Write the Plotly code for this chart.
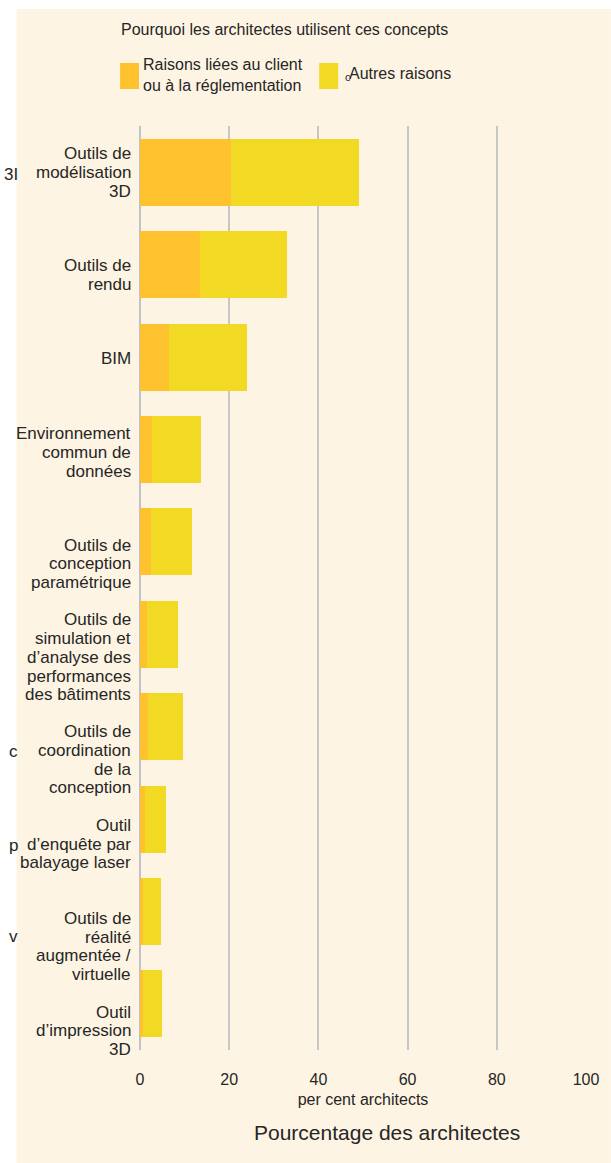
import plotly.graph_objects as go

# ---- data -------------------------------------------------------------
categories = [
    "Outils de<br>modélisation<br>3D",
    "Outils de<br>rendu",
    "BIM",
    "Environnement<br>commun de<br>données",
    "Outils de<br>conception<br>paramétrique",
    "Outils de<br>simulation et<br>d’analyse des<br>performances<br>des bâtiments",
    "Outils de<br>coordination<br>de la<br>conception",
    "Outil<br>d’enquête par<br>balayage laser",
    "Outils de<br>réalité<br>augmentée /<br>virtuelle",
    "Outil<br>d’impression<br>3D",
]
client_reasons = [20.3, 13.4, 6.5, 2.7, 2.5, 1.6, 1.8, 1.1, 0.7, 0.7]
other_reasons = [28.8, 19.6, 17.6, 10.9, 9.1, 6.9, 7.8, 4.7, 4.0, 4.2]
x_ticks = [0, 20, 40, 60, 80, 100]

series_names = ["Raisons liées au client<br>ou à la réglementation", "Autres raisons"]
legend_title = "Pourquoi les architectes utilisent ces concepts"
x_axis_title = "per cent architects"
x_axis_caption = "Pourcentage des architectes"

# ---- styling ----------------------------------------------------------
W, H = 611, 1163
L, R, T, B = 140, 23, 126, 113
PW, PH = W - L - R, H - T - B

CREAM = "#FEF4E3"
ORANGE = "#FDC22D"
YELLOW = "#F2D924"
GRID = "#C6C6C6"
TEXT = "#262626"
FONT = "Liberation Sans, Arial, sans-serif"

# vertical shift (px, downwards) of each category label from its bar centre
label_shift = [0, 10, 1, 3, 22, 23, 33, 25, 35, 27]
line_step = 18.8


def px_x(px):
    return (px - L) / PW


def px_y(py):
    return (H - B - py) / PH


fig = go.Figure()
fig.add_trace(go.Bar(y=categories, x=client_reasons, orientation="h",
                     marker=dict(color=ORANGE, line=dict(width=0)),
                     name="client"))
fig.add_trace(go.Bar(y=categories, x=other_reasons, orientation="h",
                     marker=dict(color=YELLOW, line=dict(width=0)),
                     name="other"))

annotations = []
# category labels, one line at a time for tight leading
for cat, shift in zip(categories, label_shift):
    lines = cat.split("<br>")
    n = len(lines)
    for i, line in enumerate(lines):
        dy = shift + (i - (n - 1) / 2) * line_step
        annotations.append(dict(
            xref="paper", yref="y", x=px_x(133), y=cat,
            text=line, showarrow=False, xanchor="right", yanchor="middle",
            yshift=-dy, font=dict(size=17, color=TEXT, family=FONT)))

# legend block
annotations.append(dict(xref="paper", yref="paper", x=px_x(119), y=px_y(30),
                        text=legend_title, showarrow=False, xanchor="left",
                        yanchor="middle", font=dict(size=16, color=TEXT, family=FONT)))
annotations.append(dict(xref="paper", yref="paper", x=px_x(141), y=px_y(75),
                        text=series_names[0], showarrow=False, xanchor="left",
                        yanchor="middle", align="left",
                        font=dict(size=16, color=TEXT, family=FONT)))
annotations.append(dict(xref="paper", yref="paper", x=px_x(348), y=px_y(73),
                        text=series_names[1], showarrow=False, xanchor="left",
                        yanchor="middle", font=dict(size=16, color=TEXT, family=FONT)))
annotations.append(dict(xref="paper", yref="paper", x=px_x(354), y=px_y(77),
                        text="c", showarrow=False, xanchor="right",
                        yanchor="middle", font=dict(size=11, color=TEXT, family=FONT)))

# caption under the axis title
annotations.append(dict(xref="paper", yref="paper", x=px_x(388), y=px_y(1132),
                        text=x_axis_caption, showarrow=False, xanchor="center",
                        yanchor="middle", font=dict(size=21, color=TEXT, family=FONT)))

# stray label fragments in the left margin
for txt, py in [("3I", 175), ("c", 751), ("p", 845), ("v", 936)]:
    annotations.append(dict(xref="paper", yref="paper", x=px_x(19), y=px_y(py),
                            text=txt, showarrow=False, xanchor="right",
                            yanchor="middle",
                            font=dict(size=17, color=TEXT, family=FONT)))

shapes = [
    dict(type="rect", xref="paper", yref="paper", layer="below",
         x0=px_x(16), x1=px_x(W + 2), y0=px_y(H + 2), y1=px_y(9),
         fillcolor=CREAM, line=dict(width=0)),
    dict(type="rect", xref="paper", yref="paper",
         x0=px_x(120), x1=px_x(139), y0=px_y(89), y1=px_y(63),
         fillcolor=ORANGE, line=dict(width=0)),
    dict(type="rect", xref="paper", yref="paper",
         x0=px_x(320), x1=px_x(339), y0=px_y(89), y1=px_y(63),
         fillcolor=YELLOW, line=dict(width=0)),
]

fig.update_layout(
    width=W, height=H,
    margin=dict(l=L, r=R, t=T, b=B, pad=0),
    paper_bgcolor="white",
    plot_bgcolor="rgba(0,0,0,0)",
    barmode="stack",
    bargap=0.275,
    showlegend=False,
    font=dict(family=FONT, color=TEXT),
    annotations=annotations,
    shapes=shapes,
    xaxis=dict(
        range=[0, 100], tickvals=x_ticks, ticktext=[str(v) for v in x_ticks],
        showgrid=True, gridcolor=GRID, gridwidth=2,
        zeroline=True, zerolinecolor="#BFC2CA", zerolinewidth=2,
        showline=False, ticks="", tickfont=dict(size=16, color=TEXT),
        ticklabelstandoff=18,
        title=dict(text=x_axis_title, font=dict(size=16, color=TEXT), standoff=6),
        fixedrange=True,
    ),
    yaxis=dict(
        autorange="reversed", showticklabels=False, showgrid=False,
        zeroline=False, showline=False, ticks="", fixedrange=True,
    ),
)

fig.write_html("out.html")
